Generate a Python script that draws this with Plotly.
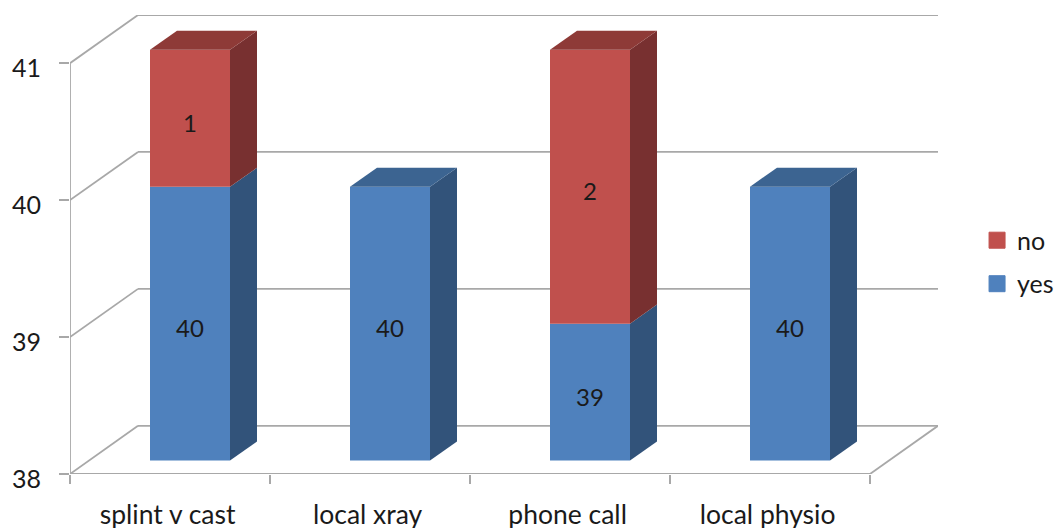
import plotly.graph_objects as go

categories = ["splint v cast", "local xray", "phone call", "local physio"]
yes_values = [40, 40, 39, 40]
no_values = [1, 0, 2, 0]
y_ticks = [38, 39, 40, 41]

BLUE, BLUE_SIDE, BLUE_TOP = "#4f81bd", "#32537a", "#3c6491"
RED, RED_SIDE, RED_TOP = "#c0504d", "#783030", "#8e3a37"
GRID = "#a8a8a8"
FONT = "Lato, Carlito, sans-serif"
TEXT = "#1a1a1a"

# fake 3D: the wall depth and bar depth in axis units
WALL_DX, WALL_DY = 0.34, 0.352
BAR_DX, BAR_DY = 0.135, 0.139
BAR_SHIFT_X, BAR_SHIFT_Y = 0.1, 0.098
BAR_WIDTH = 0.4
LABEL_DROP = 0.055
Y_MIN = y_ticks[0]
X_MIN, X_MAX = -0.5, len(categories) - 0.5

xs = [i + BAR_SHIFT_X for i in range(len(categories))]
floor = Y_MIN + BAR_SHIFT_Y
yes_tops = [v - Y_MIN + floor for v in yes_values]
no_tops = [t + n for t, n in zip(yes_tops, no_values)]


def grid_line(x0, y0, x1, y1):
    return dict(type="line", xref="x", yref="y", x0=x0, y0=y0, x1=x1, y1=y1,
                layer="below", line=dict(color=GRID, width=1.8))


def face(xv, yv, color):
    return go.Scatter(x=xv, y=yv, mode="lines", fill="toself", fillcolor=color,
                      line=dict(width=0, color=color), showlegend=False, hoverinfo="skip")


def side_face(x, y0, y1, color):
    r = x + BAR_WIDTH / 2
    return face([r, r + BAR_DX, r + BAR_DX, r, r],
                [y0, y0 + BAR_DY, y1 + BAR_DY, y1, y0], color)


def top_face(x, y, color):
    l, r = x - BAR_WIDTH / 2, x + BAR_WIDTH / 2
    return face([l, r, r + BAR_DX, l + BAR_DX, l],
                [y, y, y + BAR_DY, y + BAR_DY, y], color)


fig = go.Figure()

fig.add_trace(go.Bar(x=xs, y=[t - floor for t in yes_tops], base=floor, width=BAR_WIDTH,
                     marker=dict(color=BLUE, line=dict(width=0)), showlegend=False))
fig.add_trace(go.Bar(x=xs, y=no_values, base=yes_tops, width=BAR_WIDTH,
                     marker=dict(color=RED, line=dict(width=0)), showlegend=False))

for x, yt, nt, n in zip(xs, yes_tops, no_tops, no_values):
    fig.add_trace(side_face(x, floor, yt, BLUE_SIDE))
    if n:
        fig.add_trace(side_face(x, yt, nt, RED_SIDE))
        fig.add_trace(top_face(x, nt, RED_TOP))
    else:
        fig.add_trace(top_face(x, yt, BLUE_TOP))

# data labels
fig.add_trace(go.Scatter(
    x=xs, y=[(floor + t) / 2 - LABEL_DROP for t in yes_tops], mode="text", text=yes_values,
    textfont=dict(family=FONT, size=24, color=TEXT), showlegend=False, hoverinfo="skip"))
label_idx = [i for i, n in enumerate(no_values) if n]
fig.add_trace(go.Scatter(
    x=[xs[i] for i in label_idx],
    y=[(yes_tops[i] + no_tops[i]) / 2 - LABEL_DROP for i in label_idx],
    mode="text", text=[no_values[i] for i in label_idx],
    textfont=dict(family=FONT, size=24, color=TEXT), showlegend=False, hoverinfo="skip"))

# legend entries
for name, color in [("no", RED), ("yes", BLUE)]:
    fig.add_trace(go.Scatter(x=[None], y=[None], mode="markers", name=name, legendgroup=name,
                             marker=dict(symbol="square", size=16, color=color,
                                         line=dict(width=1, color=color))))

# walls and floor
shapes = []
for t in y_ticks[1:]:
    shapes.append(grid_line(X_MIN, t, X_MIN + WALL_DX, t + WALL_DY))
    shapes.append(grid_line(X_MIN + WALL_DX, t + WALL_DY, X_MAX + WALL_DX, t + WALL_DY))
shapes.append(grid_line(X_MIN, Y_MIN, X_MIN, y_ticks[-1]))
shapes.append(grid_line(X_MIN, Y_MIN, X_MAX, Y_MIN))
shapes.append(grid_line(X_MIN, Y_MIN, X_MIN + WALL_DX, Y_MIN + WALL_DY))
shapes.append(grid_line(X_MIN + WALL_DX, Y_MIN + WALL_DY, X_MAX + WALL_DX, Y_MIN + WALL_DY))
shapes.append(grid_line(X_MAX + WALL_DX, Y_MIN + WALL_DY, X_MAX, Y_MIN))

fig.update_layout(
    width=1054, height=528,
    margin=dict(l=70, r=116, t=15, b=54, autoexpand=False),
    paper_bgcolor="white", plot_bgcolor="white",
    barmode="overlay",
    shapes=shapes,
    font=dict(family=FONT, color=TEXT),
    legend=dict(x=1.045, xanchor="left", y=0.462, yanchor="middle", tracegroupgap=8,
                traceorder="grouped", font=dict(family=FONT, size=25, color=TEXT),
                bgcolor="rgba(0,0,0,0)"),
)
fig.update_xaxes(
    range=[X_MIN, X_MAX + WALL_DX], tickmode="array",
    tickvals=[i - 0.012 for i in range(len(categories))], ticktext=categories,
    ticks="", showgrid=False, zeroline=False, showline=False,
    tickfont=dict(family=FONT, size=26.5, color=TEXT), ticklabelstandoff=22,
    minor=dict(tick0=X_MIN, dtick=1, ticks="outside", ticklen=9, tickwidth=1.8,
               tickcolor=GRID, showgrid=False),
)
fig.update_yaxes(
    range=[Y_MIN, y_ticks[-1] + WALL_DY], tickmode="array", tickvals=y_ticks,
    ticks="outside", ticklen=10, tickwidth=1.8, tickcolor=GRID,
    showgrid=False, zeroline=False, showline=False,
    tickfont=dict(family=FONT, size=25, color=TEXT), ticklabelstandoff=13, ticklabelshift=5,
)

fig.write_html("out.html", config=dict(displayModeBar=False),
               post_script="document.body.style.margin='0'")
